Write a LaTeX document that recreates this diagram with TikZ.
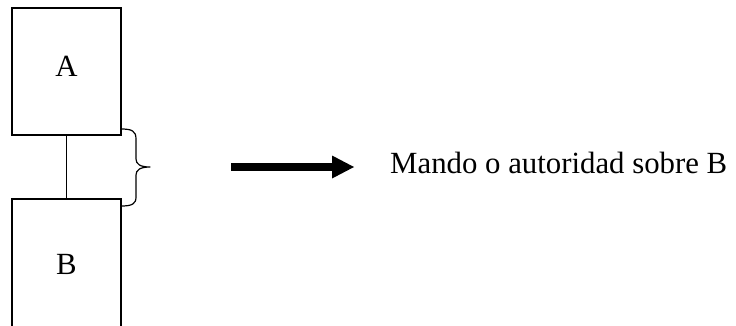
\documentclass[tikz,border=0pt]{standalone}
\usepackage{fontspec}
\setmainfont{Liberation Serif}
\usetikzlibrary{arrows.meta}
\begin{document}
\begin{tikzpicture}[x=1pt,y=-1pt,
  box/.style={draw, line width=1.4pt, minimum width=109pt,
    inner sep=0pt, text height=20pt, text depth=11pt, font=\fontsize{30.8}{36}\selectfont},
  link/.style={line width=1.3pt},
  bracestroke/.style={line width=1.2pt, line join=round},
  bigarrow/.style={line width=7.5pt, -{Triangle[length=22pt,width=23pt,line width=0pt]}},
  caption/.style={font=\fontsize{30.8}{36}\selectfont, inner sep=0pt, anchor=base west}]
\clip (0,0) rectangle (736,325);
\fill[white] (0,0) rectangle (736,325);
% the two boxes and the line joining them
\node[box, minimum height=127pt] (A) at (66.5,71.5) {A};
\node[box, minimum height=142pt] (B) at (66.5,270) {B};
\draw[link] (A) -- (B);
% curly brace spanning the link
\draw[bracestroke] (121,129) .. controls (132,129) and (136,131) .. (136,139)
  -- (136,159) .. controls (136,164) and (140,167) .. (150,167)
  .. controls (140,167) and (136,170) .. (136,175)
  -- (136,197) .. controls (136,204) and (132,206) .. (121,206);
% arrow pointing to the caption
\node[caption] (T) at (390,173) {Mando o autoridad sobre B};
\coordinate (tail) at (231,167);
\coordinate (head) at (354,167);
\draw[bigarrow] (tail) -- (head);
\end{tikzpicture}
\end{document}
